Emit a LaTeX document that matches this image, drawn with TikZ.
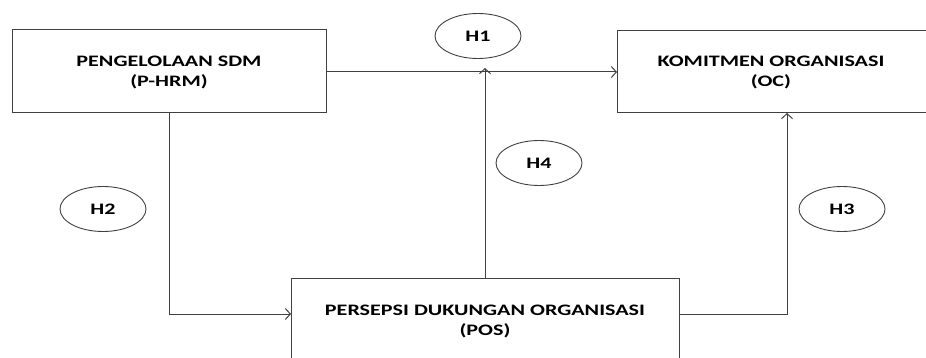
\documentclass[tikz,border=0pt]{standalone}
\usepackage{fontspec}
\setmainfont[FakeStretch=1.38]{Carlito}
\usetikzlibrary{arrows.meta,shapes.geometric}
\definecolor{linegray}{HTML}{404040}
\tikzset{
  boxnode/.style={draw=linegray, line width=1pt, inner sep=0pt},
  hyp/.style={draw=linegray, line width=0.9pt, ellipse, minimum width=86pt, minimum height=45pt, inner sep=0pt, font=\bfseries\fontsize{16}{18}\selectfont},
  conn/.style={draw=linegray, line width=1pt, -{Straight Barb[length=5pt,width=11pt]}},
  lbl/.style={font=\bfseries\fontsize{16}{20}\selectfont, align=center}
}
\begin{document}
\begin{tikzpicture}[x=1pt,y=-1pt]
\useasboundingbox (0,0) rectangle (926,358);
\begin{scope}
\clip (0,0) rectangle (926,358);
% boxes
\node[boxnode, minimum width=314pt, minimum height=83pt] (hrm) at (169,71.5) {};
\node[boxnode, minimum width=312pt, minimum height=82pt] (oc) at (773,72) {};
\node[boxnode, minimum width=388pt, minimum height=110pt] (pos) at (485,333) {};
\end{scope}
\node[lbl] (hrmt) at (169,72) {PENGELOLAAN SDM\\(P-HRM)};
\node[lbl] (oct) at (771,72) {KOMITMEN ORGANISASI\\(OC)};
\node[lbl] (post) at (485,321) {PERSEPSI DUKUNGAN ORGANISASI\\(POS)};
% coordinates
\coordinate (h1a) at (326,72);
\coordinate (h1b) at (617,72);
\coordinate (h4tip) at (485,68);
\coordinate (h2c) at (169,314);
\coordinate (h2e) at (291,314);
\coordinate (h3s) at (679,314);
\coordinate (h3c) at (787,314);
\coordinate (h3e) at (787,113);
% connectors
\draw[conn] (h1a) -- (h1b);
\draw[conn] (hrm.south -| h2c) -- (h2c) -- (h2e);
\draw[conn] (pos.north -| h4tip) -- (h4tip);
\draw[conn] (h3s) -- (h3c) -- (h3e);
% hypotheses
\node[hyp] (H1) at (478,36) {H1};
\node[hyp] (H2) at (103,209) {H2};
\node[hyp] (H4) at (539,163) {H4};
\node[hyp] (H3) at (842,209) {H3};
\end{tikzpicture}
\end{document}
